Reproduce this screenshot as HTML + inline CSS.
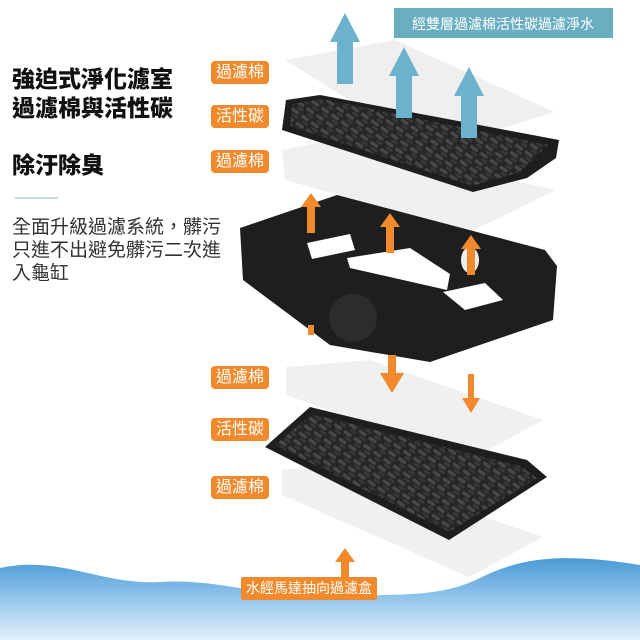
<!DOCTYPE html>
<html><head><meta charset="utf-8"><style>
html,body{margin:0;padding:0;background:#fff;}
body{width:640px;height:640px;overflow:hidden;position:relative;font-family:"Liberation Sans","Noto Sans CJK TC",sans-serif;}
.t{position:absolute;left:12px;font-weight:900;font-size:23px;color:#111;white-space:nowrap;}
.p{position:absolute;left:12px;top:216px;font-size:19px;line-height:23px;color:#333;width:212px;letter-spacing:0;}
.ol{position:absolute;background:#f08a2c;color:#fff;font-size:16px;border-radius:4px;padding:0 5px;height:23px;line-height:23px;white-space:nowrap;}
</style></head><body>
<svg width="640" height="640" style="position:absolute;left:0;top:0">
<defs>
<linearGradient id="w" x1="0" y1="0" x2="0" y2="1"><stop offset="0" stop-color="#4a9ad6"/><stop offset="0.45" stop-color="#8cc2ea"/><stop offset="1" stop-color="#e4f1fa"/></linearGradient>
<pattern id="c" width="12" height="9" patternUnits="userSpaceOnUse" patternTransform="rotate(35)"><rect width="12" height="9" fill="#262626"/><rect x="1" y="1" width="9" height="3.5" rx="1.7" fill="#474747"/><rect x="5" y="5.5" width="7" height="3" rx="1.5" fill="#383838"/></pattern>
</defs>
<path d="M0 568 C60 555 100 585 160 582 C220 578 260 598 330 596 C400 594 440 598 480 578 C520 558 560 552 640 565 L640 640 L0 640 Z" fill="url(#w)"/>
<polygon points="285,60 395,40 555,112 430,150" fill="#efefef"/>
<polygon points="282,150 330,140 556,190 470,232 285,180" fill="#f0f0f0"/>
<polygon points="286,100 320,95 559,140 556,158 527,178 473,192 282,130" fill="#1e1e1e"/>
<polygon points="292,104 322,99 548,145 520,172 472,186 290,126" fill="url(#c)"/>
<g fill="#6cb2cc">
<rect x="337" y="40" width="16" height="44"/><polygon points="330,42 345,13 360,42"/>
<rect x="396" y="74" width="16" height="44"/><polygon points="389,76 404,47 419,76"/>
<rect x="461" y="94" width="16" height="44"/><polygon points="454,96 469,67 484,96"/>
</g>
<polygon points="240,228 337,195 545,250 557,266 553,320 430,362 330,345 243,280" fill="#1e1e1e"/>
<polygon points="307,243 350,234 355,250 312,259" fill="#fff"/>
<polygon points="347,258 410,248 450,274 447,290 350,268" fill="#fff"/>
<polygon points="443,292 485,283 503,300 465,310" fill="#fff"/>
<circle cx="353" cy="318" r="24" fill="#2c2c2c"/>
<ellipse cx="470" cy="260" rx="9" ry="13" fill="#eee"/>
<polygon points="286,367 370,360 543,420 470,460 286,395" fill="#f0f0f0"/>
<polygon points="282,470 330,465 543,537 469,577 282,495" fill="#f0f0f0"/>
<polygon points="310,407 265,447 449,540 547,477 527,460" fill="#1e1e1e"/>
<polygon points="312,414 275,445 449,532 537,478 520,466" fill="url(#c)"/>
<g fill="#f08a2c">
<rect x="307" y="205" width="8" height="28"/><polygon points="301,207 311,193 321,207"/>
<rect x="386" y="225" width="8" height="28"/><polygon points="380,227 390,213 400,227"/>
<rect x="467" y="247" width="8" height="28"/><polygon points="461,249 471,235 481,249"/>
<rect x="308" y="325" width="6" height="10"/>
<rect x="388" y="355" width="8" height="20"/><polygon points="380,373 392,393 404,373"/>
<rect x="468" y="374" width="6" height="26"/><polygon points="462,398 471,413 480,398"/>
<rect x="341" y="560" width="8" height="20"/><polygon points="335,562 345,548 355,562"/>
</g>
<rect x="394" y="8" width="219" height="30" fill="#6aaec2"/>
<text x="503" y="29" text-anchor="middle" font-size="14" fill="#fff" font-family="Liberation Sans, Noto Sans CJK TC, sans-serif">經雙層過濾棉活性碳過濾淨水</text>
<rect x="15" y="197" width="43" height="2" fill="#c9d7e6"/>
</svg>
<div class="t" style="top:60px">強迫式淨化濾室</div>
<div class="t" style="top:89px">過濾棉與活性碳</div>
<div class="t" style="top:146px">除汙除臭</div>
<div class="p">全面升級過濾系統，髒污只進不出避免髒污二次進入龜缸</div>
<div class="ol" style="left:211px;top:61px">過濾棉</div>
<div class="ol" style="left:211px;top:105px">活性碳</div>
<div class="ol" style="left:211px;top:150px">過濾棉</div>
<div class="ol" style="left:211px;top:366px">過濾棉</div>
<div class="ol" style="left:211px;top:418px">活性碳</div>
<div class="ol" style="left:211px;top:476px">過濾棉</div>
<div class="ol" style="left:241px;top:577px;font-size:14px;border-radius:2px">水經馬達抽向過濾盒</div>
</body></html>
